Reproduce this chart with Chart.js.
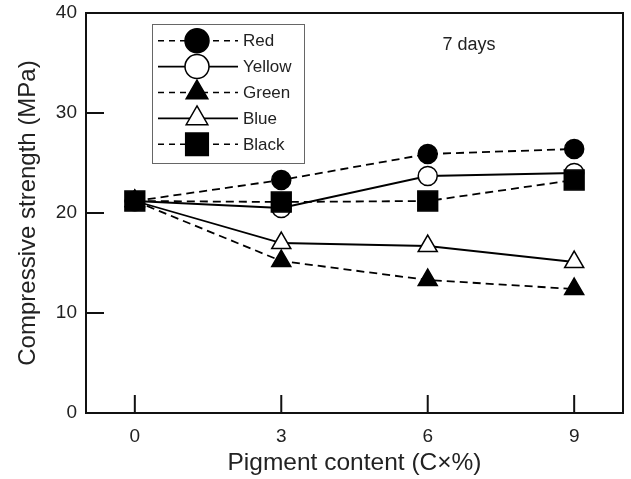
<!DOCTYPE html>
<html><head><meta charset="utf-8">
<script src="https://cdn.jsdelivr.net/npm/chart.js@4"></script>
<style>html,body{margin:0;padding:0;background:#fff;overflow:hidden;} #wrap{width:631px;height:479px;}</style>
</head><body><div id="wrap"><canvas id="c" width="631" height="479"></canvas></div>
<script>
// ---- data ----
const pigment = [0, 3, 6, 9];
const redVals = [21.2, 23.3, 25.9, 26.4];
const yellowVals = [21.2, 20.5, 23.7, 24.0];
const greenVals = [21.2, 15.2, 13.3, 12.4];
const blueVals = [21.2, 17.0, 16.7, 15.1];
const blackVals = [21.2, 21.1, 21.2, 23.3];
const seriesNames = ['Red', 'Yellow', 'Green', 'Blue', 'Black'];
const xTicks = [0, 3, 6, 9];
const yTicks = [0, 10, 20, 30, 40];
const xTitle = 'Pigment content (C\u00d7%)';
const yTitle = 'Compressive strength (MPa)';
const noteText = '7 days';

// ---- styles ----
const FONT = '"Liberation Sans", Arial, sans-serif';
const seriesStyles = [
  {pointStyle: 'circle',   fill: '#000', dash: [8, 5], r: 9.5, lr: 12,   order: 3},
  {pointStyle: 'circle',   fill: '#fff', dash: [],     r: 9.5, lr: 12,   order: 4},
  {pointStyle: 'triangle', fill: '#000', dash: [8, 5], r: 11,  lr: 12.5, order: 1},
  {pointStyle: 'triangle', fill: '#fff', dash: [],     r: 11,  lr: 12.5, order: 2},
  {pointStyle: 'rect',     fill: '#000', dash: [8, 5], r: 14,  lr: 16,   order: 0},
];
const allVals = [redVals, yellowVals, greenVals, blueVals, blackVals];

const datasets = seriesNames.map((name, i) => {
  const s = seriesStyles[i];
  return {
    label: name,
    data: pigment.map((p, j) => ({x: p, y: allVals[i][j]})),
    borderColor: '#000',
    borderWidth: 1.8,
    borderDash: s.dash,
    pointStyle: s.pointStyle,
    pointRadius: s.r,
    pointHoverRadius: s.r,
    pointBackgroundColor: s.fill,
    pointBorderColor: '#000',
    pointBorderWidth: 1.5,
    fill: false,
    tension: 0,
    order: s.order
  };
});

function drawMarker(ctx, style, r, x, y) {
  if (Chart.helpers && Chart.helpers.drawPoint) {
    Chart.helpers.drawPoint(ctx, {pointStyle: style, radius: r, rotation: 0, borderWidth: 1.5}, x, y);
    return;
  }
  ctx.beginPath();
  if (style === 'circle') ctx.arc(x, y, r, 0, Math.PI * 2);
  else if (style === 'rect') { const h = r * Math.SQRT1_2; ctx.rect(x - h, y - h, 2 * h, 2 * h); }
  else { ctx.moveTo(x, y - r); ctx.lineTo(x - r * 0.866, y + r / 2); ctx.lineTo(x + r * 0.866, y + r / 2); ctx.closePath(); }
  ctx.fill(); ctx.stroke();
}

const framePlugin = {
  id: 'frame',
  beforeDatasetsDraw(chart) {
    const {ctx, chartArea: {left, top, right, bottom}, scales: {x, y}} = chart;
    ctx.save();
    ctx.strokeStyle = '#111';
    ctx.lineWidth = 2;
    ctx.setLineDash([]);
    ctx.strokeRect(left, top, right - left, bottom - top);
    ctx.beginPath();
    yTicks.forEach(v => { const py = y.getPixelForValue(v); ctx.moveTo(left, py); ctx.lineTo(left + 18, py); });
    xTicks.forEach(v => { const px = x.getPixelForValue(v); ctx.moveTo(px, bottom); ctx.lineTo(px, bottom - 18); });
    ctx.stroke();
    ctx.restore();
  },
  afterDraw(chart) {
    const {ctx} = chart;
    ctx.save();
    // legend box
    ctx.strokeStyle = '#666';
    ctx.lineWidth = 1;
    ctx.strokeRect(152.5, 24.5, 152, 139);
    chart.data.datasets.forEach((ds, i) => {
      const s = seriesStyles[i];
      const ry = 40.7 + i * 25.9;
      ctx.strokeStyle = '#000';
      ctx.lineWidth = 1.6;
      ctx.setLineDash(s.dash.length ? [6, 5] : []);
      ctx.beginPath(); ctx.moveTo(158, ry); ctx.lineTo(238, ry); ctx.stroke();
      ctx.setLineDash([]);
      ctx.fillStyle = s.fill;
      ctx.lineWidth = 1.5;
      drawMarker(ctx, s.pointStyle, s.lr, 197, ry);
      ctx.fillStyle = '#222';
      ctx.font = '17px ' + FONT;
      ctx.textBaseline = 'middle';
      ctx.textAlign = 'left';
      ctx.fillText(ds.label, 243, ry + 1);
    });
    // note
    ctx.fillStyle = '#222';
    ctx.font = '18px ' + FONT;
    ctx.textAlign = 'center';
    ctx.textBaseline = 'middle';
    ctx.fillText(noteText, 469, 45);
    ctx.restore();
  }
};

new Chart(document.getElementById('c'), {
  type: 'line',
  data: {datasets},
  options: {
    responsive: false,
    animation: false,
    devicePixelRatio: 1,
    layout: {autoPadding: false, padding: {top: 13, right: 8, left: 0, bottom: 0}},
    plugins: {legend: {display: false}, tooltip: {enabled: false}},
    scales: {
      x: {
        type: 'linear', min: -1, max: 10,
        afterBuildTicks: s => { s.ticks = xTicks.map(v => ({value: v})); },
        afterFit: s => { s.height = 66; s.paddingLeft = 0; s.paddingRight = 0; },
        grid: {display: false, drawTicks: false},
        border: {display: false},
        ticks: {color: '#222', font: {family: FONT, size: 19}, padding: 12},
        title: {display: true, text: xTitle, color: '#222', font: {family: FONT, size: 24.5}, padding: {top: 0, bottom: 1}}
      },
      y: {
        type: 'linear', min: 0, max: 40,
        afterBuildTicks: s => { s.ticks = yTicks.map(v => ({value: v})); },
        afterFit: s => { s.width = 86; s.paddingTop = 0; s.paddingBottom = 0; },
        grid: {display: false, drawTicks: false},
        border: {display: false},
        ticks: {color: '#222', font: {family: FONT, size: 19}, padding: 9},
        title: {display: true, text: yTitle, color: '#222', font: {family: FONT, size: 24}, padding: {top: 14, bottom: 0}}
      }
    }
  },
  plugins: [framePlugin]
});
</script>
</body></html>
